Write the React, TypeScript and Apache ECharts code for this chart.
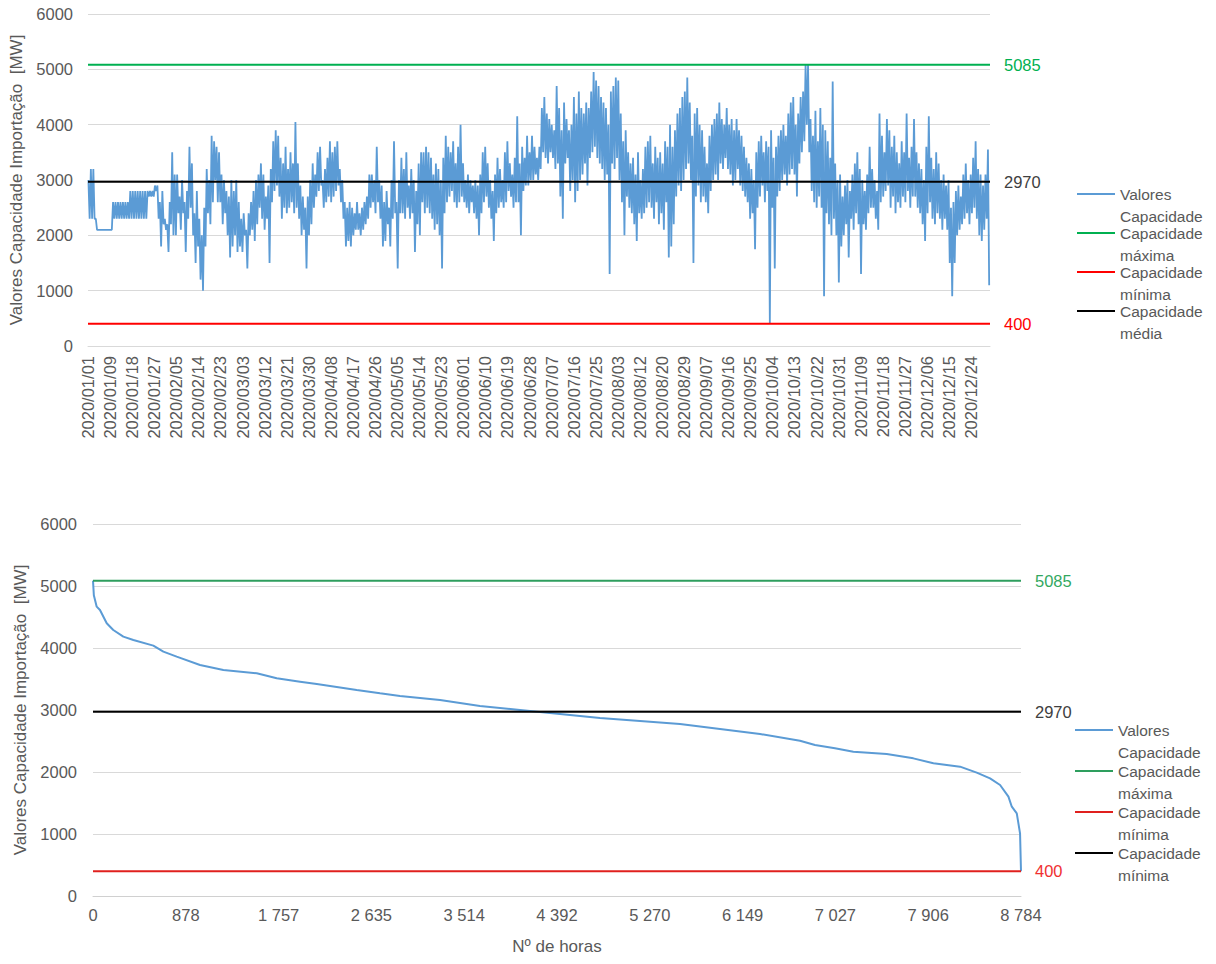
import React, { useEffect, useRef } from 'react';
import * as echarts from 'echarts';

// ---------- DATA ----------
const dateLabels = [
  '2020/01/01', '2020/01/09', '2020/01/18', '2020/01/27', '2020/02/05', '2020/02/14', '2020/02/23',
  '2020/03/03', '2020/03/12', '2020/03/21', '2020/03/30', '2020/04/08', '2020/04/17', '2020/04/26',
  '2020/05/05', '2020/05/14', '2020/05/23', '2020/06/01', '2020/06/10', '2020/06/19', '2020/06/28',
  '2020/07/07', '2020/07/16', '2020/07/25', '2020/08/03', '2020/08/12', '2020/08/20', '2020/08/29',
  '2020/09/07', '2020/09/16', '2020/09/25', '2020/10/04', '2020/10/13', '2020/10/22', '2020/10/31',
  '2020/11/09', '2020/11/18', '2020/11/27', '2020/12/06', '2020/12/15', '2020/12/24',
];
const hoursPerLabel = 215;
const hoursTotal = 8784;

// daily maximum / minimum import capacity read from the hourly series (MW)
const dailyHigh = [
  3000, 3200, 3200, 2300, 2100, 2100, 2100, 2100, 2100, 2100,
  2600, 2600, 2600, 2600, 2600, 2600, 2600, 2800, 2800, 2800,
  2800, 2800, 2800, 2800, 2800, 2800, 2800, 2900, 2900, 2600,
  2800, 2300, 2200, 2600, 3500, 3100, 3100, 2700, 3000, 2600,
  2800, 3600, 3300, 2400, 2800, 2300, 2000, 2500, 3200, 3000,
  3800, 3700, 3600, 3500, 3100, 3000, 2800, 2700, 3000, 2800,
  3000, 2600, 2300, 2400, 2100, 2400, 2600, 2800, 3000, 3100,
  3300, 3100, 2700, 2900, 3200, 3700, 3900, 3800, 3400, 3300,
  3600, 3200, 3500, 3300, 4050, 3300, 2900, 2700, 2500, 2700,
  3000, 3300, 3100, 3500, 3600, 3000, 3200, 3400, 3700, 3500,
  3600, 3700, 3200, 3000, 2600, 2500, 2600, 2500, 2400, 2600,
  2400, 2500, 2600, 2700, 3100, 3100, 3000, 3600, 3000, 2900,
  2600, 2800, 2500, 3000, 3700, 2600, 3000, 3400, 3200, 3500,
  2900, 3200, 3000, 2800, 3300, 3500, 3500, 3600, 3500, 3400,
  3100, 3300, 3200, 3000, 3400, 3800, 3600, 3500, 3700, 3300,
  3600, 4000, 3300, 3000, 3100, 3000, 2900, 3000, 2900, 3100,
  3500, 3600, 3300, 3000, 2800, 3100, 3400, 3200, 3000, 3500,
  3700, 3300, 3100, 3400, 4150, 3300, 3600, 3400, 3800, 3500,
  3800, 3600, 3400, 3600, 4300, 4500, 4200, 4100, 4000, 3900,
  4700, 4300, 3900, 4400, 4100, 3900, 4000, 4500, 4200, 4600,
  4300, 4200, 4400, 4300, 4600, 4950, 4800, 4700, 4500, 4400,
  4300, 4000, 4600, 4700, 4850, 4800, 4200, 3700, 3900, 3500,
  3300, 3400, 3100, 3500, 3000, 3200, 3600, 3700, 3800, 3300,
  3600, 3400, 3500, 3300, 3700, 3600, 4000, 3600, 3900, 4200,
  4300, 4500, 4600, 4850, 4400, 3800, 4200, 4300, 4000, 3900,
  3600, 3300, 3800, 4000, 4100, 4200, 4400, 4100, 4000, 4300,
  4000, 4100, 3900, 4100, 3900, 3800, 3600, 3400, 3300, 3200,
  3000, 3500, 3700, 3800, 3500, 3700, 3600, 3900, 3400, 3600,
  3800, 3900, 4000, 3800, 4200, 4400, 4500, 4000, 4200, 4500,
  4600, 5085, 5085, 4100, 3800, 4250, 3700, 4300, 4000, 3900,
  3700, 3400, 4780, 3300, 3000, 3100, 2700, 2900, 3000, 2800,
  3100, 3300, 3500, 3200, 3000, 2800, 3100, 3600, 3200, 3000,
  2800, 4200, 3800, 3500, 4100, 3900, 3600, 3800, 3500, 3300,
  3700, 3500, 4200, 3400, 3600, 4100, 3500, 3300, 3200, 3000,
  3600, 4150, 3400, 3200, 3500, 3300, 3000, 3100, 2900, 3000,
  2500, 2600, 2800, 2900, 2700, 3100, 3300, 3000, 3100, 3400,
  3700, 3200, 3100, 2900, 3100, 3550,
];
const dailyLow = [
  2300, 2300, 2300, 2100, 2100, 2100, 2100, 2100, 2100, 2100,
  2300, 2300, 2300, 2300, 2300, 2300, 2300, 2300, 2300, 2300,
  2300, 2300, 2300, 2300, 2700, 2700, 2700, 2800, 2300, 1800,
  2200, 2100, 1700, 2200, 2000, 2000, 2400, 2100, 2400, 1700,
  2300, 2500, 2000, 1500, 1800, 1200, 1000, 1800, 2400, 2200,
  2600, 3000, 2600, 2600, 2200, 2400, 2000, 1600, 1800, 2000,
  1700, 1800, 1700, 2000, 1400, 2000, 2100, 1900, 2200, 2500,
  2300, 2100, 2300, 1500, 2600, 2800, 2900, 2700, 2300, 2500,
  2400, 2500, 2600, 2400, 2500, 2300, 2000, 2100, 1400, 2000,
  2200, 2500, 2700, 2800, 2900, 2500, 2600, 2700, 2600, 2700,
  2800, 2900, 2600, 2300, 1800, 1900, 1800, 2000, 2100, 2100,
  2000, 2100, 2200, 2300, 2500, 2600, 2400, 2600, 2300, 1800,
  1900, 2200, 1800, 2300, 2400, 1400, 2400, 2400, 2300, 2500,
  2300, 2400, 1700, 2200, 2000, 2600, 2400, 2500, 2400, 2300,
  2100, 2200, 2000, 1400, 2400, 2600, 2700, 2800, 2600, 2500,
  2600, 2700, 2600, 2500, 2400, 2600, 2400, 2300, 2000, 2400,
  2600, 2700, 2500, 2300, 1900, 2400, 2500, 2600, 2500, 2600,
  2800, 2700, 2500, 2600, 2600, 2000, 2800, 2900, 2900, 3000,
  3000, 3100, 3000, 3200, 3500, 3400, 3300, 3500, 3400, 3200,
  3300, 2700, 2300, 3300, 3400, 2800, 3000, 2600, 2800, 3000,
  3100, 3300, 2900, 3400, 3500, 3600, 3400, 3300, 3200, 3000,
  3100, 1300, 3300, 3200, 3400, 3000, 2600, 2000, 2700, 2500,
  2400, 2200, 1900, 2400, 2300, 2400, 2500, 2600, 2500, 2300,
  2600, 2200, 2400, 2100, 2600, 1600, 1800, 2200, 2700, 2900,
  2800, 3000, 3200, 3300, 3000, 1500, 2700, 2900, 2600, 2700,
  2600, 2400, 2800, 3000, 3100, 3000, 3300, 3200, 3400, 3200,
  3100, 2900, 3000, 3200, 2900, 2800, 2700, 2600, 2300, 2400,
  1750, 2500, 2700, 2900, 2600, 2800, 400, 2500, 1400, 2700,
  2800, 3000, 3100, 2900, 3100, 3200, 3100, 2700, 3300, 3500,
  3700, 4000, 3500, 2800, 2600, 2500, 2700, 2500, 900, 2400,
  2200, 2000, 2300, 2000, 1150, 1800, 2000, 2200, 1600, 2300,
  2100, 2400, 2200, 1300, 2200, 2100, 2400, 2500, 2500, 2300,
  2100, 2600, 2700, 2800, 2900, 2500, 2700, 2400, 2600, 2500,
  2700, 2600, 2800, 2500, 2700, 2700, 2500, 2400, 2200, 1900,
  2400, 2600, 2300, 2200, 2400, 2300, 2100, 2300, 2100, 1500,
  900, 1500, 2000, 2100, 2200, 2300, 2400, 2200, 2400, 2500,
  2300, 2000, 1900, 2100, 2300, 1100,
];

// duration curve (sorted hourly values)
const durationHours = [
  0, 8, 35, 66, 130, 192, 287, 382, 571, 666, 792, 1013, 1234, 1550, 1739, 1960, 2118, 2496, 2717,
  2906, 3285, 3663, 4042, 4420, 4799, 5178, 5556, 5935, 6314, 6692, 6834, 7023, 7197, 7513, 7765,
  7955, 8207, 8365, 8491, 8586, 8665, 8697, 8744, 8775, 8784,
];
const durationValues = [
  5085, 4850, 4667, 4613, 4398, 4290, 4183, 4129, 4038, 3941, 3860, 3726, 3645, 3592, 3511, 3457,
  3419, 3323, 3269, 3226, 3161, 3065, 3000, 2935, 2871, 2823, 2774, 2694, 2613, 2505, 2435, 2382,
  2327, 2290, 2220, 2140, 2086, 1989, 1898, 1790, 1602, 1440, 1333, 1011, 400,
];
const hourLabels = ['0', '878', '1 757', '2 635', '3 514', '4 392', '5 270', '6 149', '7 027', '7 906', '8 784'];
const hourStep = 878.4;

const capMax = 5085;
const capMean = 2970;
const capMin = 400;

const seriesNamesTop = ['Valores\nCapacidade', 'Capacidade\nmáxima', 'Capacidade\nmínima', 'Capacidade\nmédia'];
const seriesNamesBottom = ['Valores\nCapacidade', 'Capacidade\nmáxima', 'Capacidade\nmínima', 'Capacidade\nmínima '];
const yTitle = 'Valores Capacidade Importação  [MW]';
const xTitleBottom = 'Nº de horas';

// ---------- helpers ----------
const FONT = 'Liberation Sans, Arial, sans-serif';
const GRAY = '#595959';

function hourlySeries() {
  const pts: number[][] = [];
  for (let d = 0; d < dailyHigh.length; d++) {
    pts.push([d * 24 + 4, dailyHigh[d]]);
    pts.push([d * 24 + 16, dailyLow[d]]);
  }
  return pts;
}

function constLine(name: string, value: number, color: string, labelColor: string, width: number) {
  return {
    name,
    type: 'line',
    symbol: 'none',
    showSymbol: false,
    data: [[0, value], [hoursTotal, value]],
    lineStyle: { color, width },
    itemStyle: { color },
    endLabel: {
      show: true,
      formatter: (p: any) => String(p.value[1]),
      color: labelColor,
      fontSize: 16.5,
      fontFamily: FONT,
      distance: 14,
    },
    z: 3,
    silent: true,
  };
}

function yAxisCfg(nameGap: number, margin: number) {
  return {
    type: 'value',
    min: 0,
    max: 6000,
    interval: 1000,
    name: yTitle,
    nameLocation: 'middle',
    nameGap,
    nameTextStyle: { color: GRAY, fontSize: 17, fontFamily: FONT },
    axisLabel: { color: GRAY, fontSize: 16.5, fontFamily: FONT, margin, formatter: (v: number) => String(v) },
    axisLine: { show: false },
    axisTick: { show: false },
    splitLine: { lineStyle: { color: '#D9D9D9', width: 1 } },
  };
}

function legendCfg(names: string[], left: number, top: number, gap: number) {
  return {
    orient: 'vertical',
    left,
    top,
    itemWidth: 38,
    itemHeight: 2,
    icon: 'rect',
    itemGap: gap,
    selectedMode: false,
    data: names,
    formatter: (n: string) => '\n' + n,
    textStyle: { color: GRAY, fontSize: 15.5, fontFamily: FONT, lineHeight: 22 },
  };
}

function topOption() {
  return {
    animation: false,
    textStyle: { fontFamily: FONT },
    grid: { left: 88, right: 226, top: 14, bottom: 136 },
    xAxis: {
      type: 'value',
      min: 0,
      max: hoursTotal,
      interval: hoursPerLabel,
      axisLine: { show: true, lineStyle: { color: '#D9D9D9' } },
      axisTick: { show: false },
      splitLine: { show: false },
      axisLabel: {
        rotate: 90,
        color: GRAY,
        fontSize: 16.5,
        fontFamily: FONT,
        margin: 10,
        formatter: (v: number) => {
          const i = Math.round(v / hoursPerLabel);
          return Math.abs(v - i * hoursPerLabel) < 0.5 && i < dateLabels.length ? dateLabels[i] : '';
        },
      },
    },
    yAxis: yAxisCfg(58, 15),
    legend: legendCfg(seriesNamesTop, 1072, 156, -27),
    series: [
      {
        name: seriesNamesTop[0],
        type: 'line',
        symbol: 'none',
        showSymbol: false,
        data: hourlySeries(),
        lineStyle: { color: '#5B9BD5', width: 1.8 },
        itemStyle: { color: '#5B9BD5' },
        z: 2,
        silent: true,
      },
      constLine(seriesNamesTop[1], capMax, '#00B050', '#00B050', 2),
      constLine(seriesNamesTop[2], capMin, '#FF0000', '#FF0000', 2),
      constLine(seriesNamesTop[3], capMean, '#000000', '#404040', 2),
    ],
  };
}

function bottomOption() {
  return {
    animation: false,
    textStyle: { fontFamily: FONT },
    grid: { left: 93, right: 195, top: 42, bottom: 68 },
    xAxis: {
      type: 'value',
      min: 0,
      max: hoursTotal,
      interval: hourStep,
      name: xTitleBottom,
      nameLocation: 'middle',
      nameGap: 42,
      nameTextStyle: { color: GRAY, fontSize: 17, fontFamily: FONT },
      axisLine: { show: true, lineStyle: { color: '#D0D0D0' } },
      axisTick: { show: false },
      splitLine: { show: false },
      axisLabel: {
        color: GRAY,
        fontSize: 16.5,
        fontFamily: FONT,
        margin: 10,
        formatter: (v: number) => {
          const i = Math.round(v / hourStep);
          return Math.abs(v - i * hourStep) < 0.5 && i < hourLabels.length ? hourLabels[i] : '';
        },
      },
    },
    yAxis: yAxisCfg(61, 16),
    legend: legendCfg(seriesNamesBottom, 1070, 210, -25),
    series: [
      {
        name: seriesNamesBottom[0],
        type: 'line',
        symbol: 'none',
        showSymbol: false,
        data: durationHours.map((h, i) => [h, durationValues[i]]),
        lineStyle: { color: '#5B9BD5', width: 2 },
        itemStyle: { color: '#5B9BD5' },
        z: 2,
        silent: true,
      },
      constLine(seriesNamesBottom[1], capMax, '#2E9E5E', '#33A85F', 2),
      constLine(seriesNamesBottom[2], capMin, '#E0201E', '#F03030', 2),
      constLine(seriesNamesBottom[3], capMean, '#000000', '#404040', 2),
    ],
  };
}

function Chart({ option, top, height }: { option: any; top: number; height: number }) {
  const ref = useRef<HTMLDivElement>(null);
  useEffect(() => {
    if (!ref.current) return;
    const chart = echarts.init(ref.current, undefined, { renderer: 'svg' });
    chart.setOption(option);
    return () => chart.dispose();
  }, [option]);
  return <div ref={ref} style={{ position: 'absolute', left: 0, top, width: 1216, height }} />;
}

const topOpt = topOption();
const bottomOpt = bottomOption();

export default function App() {
  return (
    <div style={{ position: 'absolute', left: 0, top: 0, width: 1216, height: 964, background: '#fff', overflow: 'hidden' }}>
      <Chart option={topOpt} top={0} height={482} />
      <Chart option={bottomOpt} top={482} height={482} />
    </div>
  );
}
